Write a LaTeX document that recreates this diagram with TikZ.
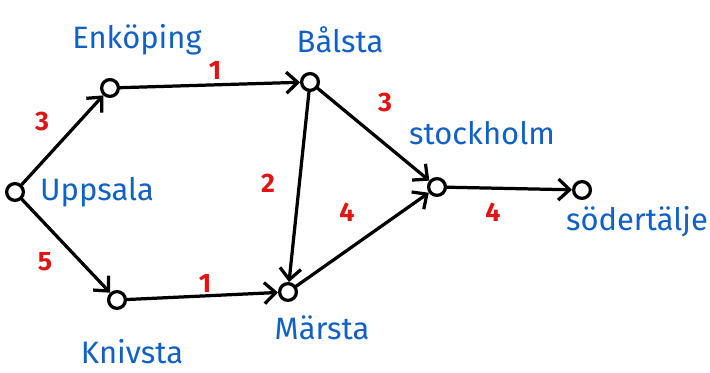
\documentclass[tikz,border=0pt]{standalone}
\usepackage{fontspec}
\setmainfont{Fira Sans}
\usetikzlibrary{arrows.meta}
\definecolor{townblue}{RGB}{16,96,200}
\definecolor{weightred}{RGB}{225,20,20}
\tikzset{
  town/.style={circle,draw=black,line width=2.3pt,fill=white,minimum size=0.42cm,inner sep=0pt},
  townname/.style={text=townblue,font=\fontsize{22}{26}\selectfont},
  weight/.style={text=weightred,font=\fontsize{19}{22}\selectfont\bfseries},
  road/.style={line width=2.3pt,line cap=round,-{Straight Barb[length=8pt,width=15pt]}}
}

\begin{document}
\begin{tikzpicture}[x=0.025cm,y=-0.025cm]
      \useasboundingbox (0,0) rectangle (710,373);
      \foreach \t/\x/\y in {upp/15/192,enk/110/88,bal/310/82,kni/117/300,mar/288/292,sto/437/187,sod/582/190} {
        \node[town] (\t) at (\x,\y) {};
      }
      \node[townname] (enkname) at (137,40) {Enköping};
      \node[townname] (balname) at (340,40) {Bålsta};
      \node[townname] (uppname) at (97,192) {Uppsala};
      \node[townname] (kniname) at (132,352) {Knivsta};
      \node[townname] (marname) at (322,328) {Märsta};
      \node[townname] (stoname) at (482,133) {stockholm};
      \node[townname] (sodname) at (637,222) {södertälje};
      \draw[road] (upp) -- (enk);
      \draw[road] (upp) -- (kni);
      \draw[road] (enk) -- (bal);
      \draw[road] (bal) -- (mar);
      \draw[road] (bal) -- (sto);
      \draw[road] (kni) -- (mar);
      \draw[road] (mar) -- (sto);
      \draw[road] (sto) -- (sod);
      \foreach \w/\x/\y/\v in {ue/42/122/3,uk/45/262/5,eb/215/70/1,bm/268/183/2,bs/385/103/3,km/205/283/1,ms/347/212/4,ss/493/212/4} {
        \node[weight] (w\w) at (\x,\y) {\v};
      }
\end{tikzpicture}
\end{document}
